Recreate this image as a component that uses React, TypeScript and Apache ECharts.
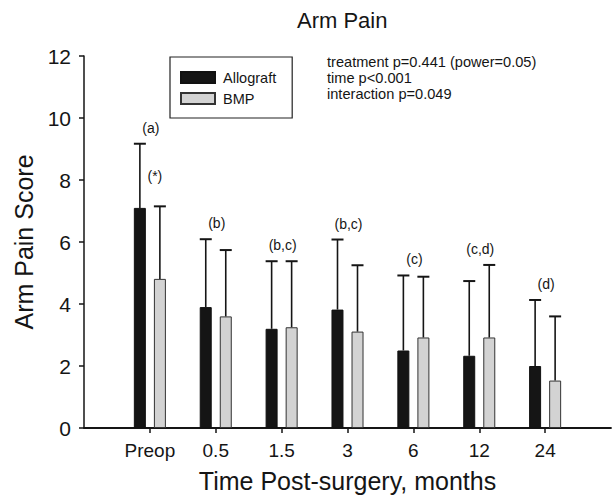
import React, { useEffect, useRef } from 'react';
import * as echarts from 'echarts';

const categories = ['Preop', '0.5', '1.5', '3', '6', '12', '24'];
const allograftMean = [7.1, 3.9, 3.2, 3.82, 2.5, 2.33, 2.0];
const allograftUpper = [9.17, 6.09, 5.38, 6.08, 4.92, 4.74, 4.13];
const bmpMean = [4.81, 3.6, 3.25, 3.11, 2.92, 2.92, 1.53];
const bmpUpper = [7.15, 5.74, 5.38, 5.25, 4.88, 5.26, 3.6];
const groupLetters = ['(a)', '(b)', '(b,c)', '(b,c)', '(c)', '(c,d)', '(d)'];
const preopBmpMark = '(*)';
const statsLines = ['treatment p=0.441 (power=0.05)', 'time p<0.001', 'interaction p=0.049'];
const yMin = 0;
const yMax = 12;
const yStep = 2;

const FONT = '"Liberation Sans", Arial, Helvetica, sans-serif';
const INK = '#151515';
const BAR_W = 12;
const HALF_SPAN = 10; // half distance between the two bar centres

const axisCats = ['', ...categories, ''];

function errorSeries(name: string, means: number[], uppers: number[], dx: number) {
  return {
    type: 'custom',
    name,
    silent: true,
    z: 4,
    encode: { x: 0, y: [1, 2] },
    data: means.map((m, i) => [i + 1, m, uppers[i]]),
    renderItem: (params: any, api: any) => {
      const base = api.coord([api.value(0), api.value(1)]);
      const top = api.coord([api.value(0), api.value(2)]);
      const x = base[0] + dx;
      return {
        type: 'group',
        children: [
          { type: 'line', shape: { x1: x, y1: base[1], x2: x, y2: top[1] }, style: { stroke: INK, lineWidth: 1.6 } },
          { type: 'line', shape: { x1: x - BAR_W / 2, y1: top[1], x2: x + BAR_W / 2, y2: top[1] }, style: { stroke: INK, lineWidth: 2 } },
        ],
      };
    },
  };
}

export default function App() {
  const ref = useRef<HTMLDivElement>(null);
  useEffect(() => {
    if (!ref.current) return;
    const chart = echarts.init(ref.current, null, { renderer: 'svg' });
    const option: any = {
      animation: false,
      textStyle: { fontFamily: FONT, color: INK },
      title: {
        text: 'Arm Pain',
        left: 297,
        top: 9,
        padding: 0,
        textStyle: { fontFamily: FONT, fontSize: 22, fontWeight: 'normal', color: INK },
      },
      legend: {
        orient: 'vertical',
        left: 170,
        top: 57,
        padding: [13, 16, 12, 10],
        itemWidth: 34,
        itemHeight: 11,
        itemGap: 6,
        borderColor: '#222',
        borderWidth: 1.2,
        icon: 'rect',
        data: ['Allograft', 'BMP'],
        textStyle: { fontFamily: FONT, fontSize: 14.5, color: INK, padding: [0, 0, 0, 3] },
      },
      grid: { left: 84, right: 0, top: 56, bottom: 70 },
      xAxis: {
        type: 'category',
        data: axisCats,
        boundaryGap: false,
        name: 'Time Post-surgery, months',
        nameLocation: 'middle',
        nameGap: 40,
        nameTextStyle: { fontFamily: FONT, fontSize: 25, color: INK },
        axisLine: { lineStyle: { color: INK, width: 1.8 } },
        axisTick: {
          length: 5,
          lineStyle: { color: INK, width: 1.5 },
          interval: (i: number) => i > 0 && i < axisCats.length - 1,
        },
        axisLabel: { interval: 0, margin: 13, fontFamily: FONT, fontSize: 19, color: INK },
        splitLine: { show: false },
      },
      yAxis: {
        type: 'value',
        min: yMin,
        max: yMax,
        interval: yStep,
        name: 'Arm Pain Score',
        nameLocation: 'middle',
        nameGap: 47,
        nameTextStyle: { fontFamily: FONT, fontSize: 25, color: INK },
        axisLine: { show: true, lineStyle: { color: INK, width: 1.5 } },
        axisTick: { show: true, length: 5, lineStyle: { color: INK, width: 1.5 } },
        axisLabel: { margin: 13, fontFamily: FONT, fontSize: 21, color: INK },
        splitLine: { show: false },
      },
      series: [
        {
          type: 'bar',
          name: 'Allograft',
          barWidth: BAR_W,
          barGap: '67%',
          z: 2,
          itemStyle: { color: INK, borderColor: '#111', borderWidth: 1 },
          data: allograftMean.map((v, i) => [i + 1, v]),
        },
        {
          type: 'bar',
          name: 'BMP',
          barWidth: BAR_W,
          z: 2,
          itemStyle: { color: '#d3d3d3', borderColor: '#333', borderWidth: 1 },
          data: bmpMean.map((v, i) => [i + 1, v]),
        },
        errorSeries('Allograft SD', allograftMean, allograftUpper, -HALF_SPAN),
        errorSeries('BMP SD', bmpMean, bmpUpper, HALF_SPAN),
        {
          type: 'custom',
          name: 'letters',
          silent: true,
          z: 5,
          encode: { x: 0, y: 1 },
          data: categories.map((_, i) => [i + 1, Math.max(allograftUpper[i], bmpUpper[i])]),
          renderItem: (params: any, api: any) => {
            const p = api.coord([api.value(0), api.value(1)]);
            return {
              type: 'text',
              x: p[0] + 1,
              y: p[1] - 16,
              style: {
                text: groupLetters[params.dataIndex],
                fontFamily: FONT,
                fontSize: 14,
                fill: INK,
                align: 'center',
                verticalAlign: 'middle',
              },
            };
          },
        },
        {
          type: 'custom',
          name: 'preopMark',
          silent: true,
          z: 5,
          encode: { x: 0, y: 1 },
          data: [[1, bmpUpper[0]]],
          renderItem: (params: any, api: any) => {
            const p = api.coord([api.value(0), api.value(1)]);
            return {
              type: 'text',
              x: p[0] + HALF_SPAN - 5,
              y: p[1] - 30,
              style: {
                text: preopBmpMark,
                fontFamily: FONT,
                fontSize: 14,
                fill: INK,
                align: 'center',
                verticalAlign: 'middle',
              },
            };
          },
        },
      ],
      graphic: [
        {
          type: 'text',
          left: 327,
          top: 54,
          style: {
            text: statsLines.join('\n'),
            fontFamily: FONT,
            fontSize: 14.6,
            lineHeight: 16,
            fill: INK,
          },
        },
      ],
    };
    chart.setOption(option);
    return () => chart.dispose();
  }, []);
  return <div ref={ref} style={{ width: 614, height: 498, position: 'absolute', left: 0, top: 0 }} />;
}
